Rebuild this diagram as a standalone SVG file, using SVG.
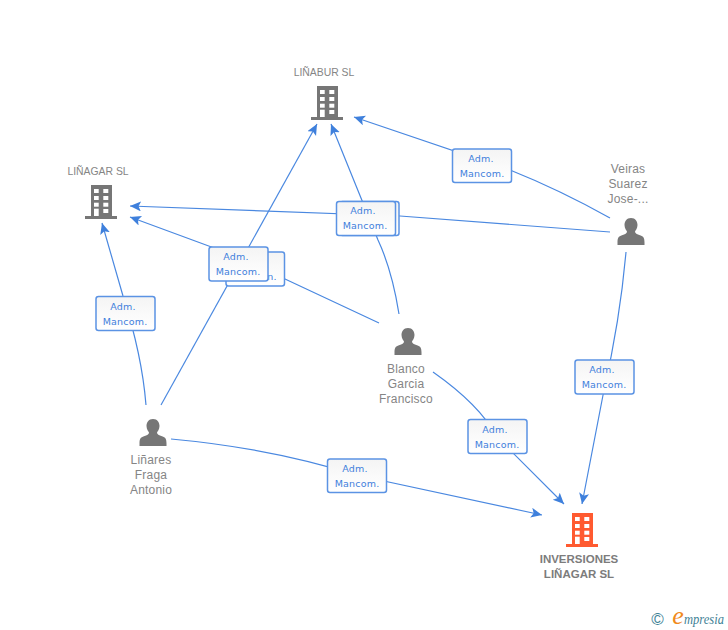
<svg xmlns="http://www.w3.org/2000/svg" width="728" height="630" viewBox="0 0 728 630">
<style>
.c{fill:none;stroke:#4a88e0;stroke-width:1.2;marker-end:url(#a)}
.t{font:12px "Liberation Sans",Arial,sans-serif;fill:#858585;text-anchor:middle;letter-spacing:.2px}
.n{font:10.4px "Liberation Sans",Arial,sans-serif;fill:#858585;text-anchor:middle}
.b{font:bold 11.5px "Liberation Sans",Arial,sans-serif;fill:#7c7c7c;text-anchor:middle}
.m{font:9.5px "DejaVu Sans",sans-serif;fill:#3f80dc;text-anchor:middle;letter-spacing:.2px}
.box{fill:url(#g);stroke:#5b93e4;stroke-width:1.5}
</style>
<defs>
<linearGradient id="g" x1="0" y1="0" x2="0" y2="1"><stop offset="0" stop-color="#f4f4f4"/><stop offset=".5" stop-color="#fafafa"/><stop offset="1" stop-color="#fff"/></linearGradient>
<marker id="a" markerUnits="userSpaceOnUse" markerWidth="14" markerHeight="12" refX="11" refY="5" orient="auto"><path d="M0 0L11 5L0 10L2.500 5Z" fill="#3f80dc"/></marker>
<g id="bld"><path d="M-10-18H11V13H16V16H-16V13H-10Z"/><g fill="#fff"><rect x="-7" y="-14" width="4.700" height="4"/><rect x="2.300" y="-14" width="5" height="4"/><rect x="-7" y="-7" width="4.700" height="4"/><rect x="2.300" y="-7" width="5" height="4"/><rect x="-7" y="-.3" width="4.700" height="4"/><rect x="2.300" y="-.3" width="5" height="4"/><rect x="-7" y="5.700" width="4.700" height="7.300"/><rect x="2.300" y="6" width="5" height="4"/></g></g>
<g id="per"><path d="M0-14C4.500-14 6.500-10.500 6.500-7C6.500-3.500 4.500-1.500 4-.5C4 1.500 6 2 9 3.300C12.500 4.500 13.500 6 13.500 10.500V13H-13.500V10.500C-13.500 6-12.500 4.500-9 3.300C-6 2-4 1.500-4-.5C-4.500-1.500-6.500-3.500-6.500-7C-6.500-10.500-4.500-14 0-14Z" fill="#767676"/></g>
</defs>
<rect width="728" height="630" fill="#fff"/>
<g id="connectors">
<path class="c" d="M161 405L317 124"/>
<path class="c" d="M146 405Q142 355 123 296L102 223"/>
<path class="c" d="M171 439Q270 448 356 475L542 515"/>
<path class="c" d="M399 314Q392 270 378 240L331 124"/>
<path class="c" d="M379 323L285 279L225 252L130 217"/>
<path class="c" d="M610 232L400 216L130 206"/>
<path class="c" d="M610 218Q560 190 510 170L354 117"/>
<path class="c" d="M626 252Q620 320 604 390L582 504"/>
<path class="c" d="M433 372Q480 405 497 437L564 504"/>
</g>
<g id="e1"><use href="#bld" x="327" y="104" fill="#767676"/><text class="n" x="324" y="76">LIÑABUR SL</text></g>
<g id="e2"><use href="#bld" x="101" y="203" fill="#767676"/><text class="n" x="98" y="175">LIÑAGAR SL</text></g>
<g id="e3"><use href="#bld" x="582" y="531" fill="#ff5a30"/><text class="b" x="579" y="563">INVERSIONES</text><text class="b" x="579" y="578">LIÑAGAR SL</text></g>
<g id="p1"><use href="#per" x="631" y="232"/><text class="t" x="628" y="173">Veiras</text><text class="t" x="628" y="188">Suarez</text><text class="t" x="628" y="203">Jose-...</text></g>
<g id="p2"><use href="#per" x="408" y="342"/><text class="t" x="406" y="373">Blanco</text><text class="t" x="406" y="388">Garcia</text><text class="t" x="406" y="403">Francisco</text></g>
<g id="p3"><use href="#per" x="153" y="433"/><text class="t" x="151" y="464">Liñares</text><text class="t" x="151" y="479">Fraga</text><text class="t" x="151" y="494">Antonio</text></g>
<g id="l1"><rect class="box" x="452.500" y="149" width="59" height="33.500" rx="2.500"/><text class="m" x="481" y="162">Adm.</text><text class="m" x="482" y="177">Mancom.</text></g>
<g id="l2"><rect class="box" x="340" y="201.500" width="59" height="34" rx="2.500"/><rect class="box" x="336.500" y="201.500" width="59" height="34" rx="2.500"/><text class="m" x="363" y="214">Adm.</text><text class="m" x="365" y="229">Mancom.</text></g>
<g id="l3"><rect class="box" x="226" y="252" width="58.500" height="34" rx="2.500"/><text class="m" x="272" y="280">n.</text><rect class="box" x="209" y="247" width="59" height="34" rx="2.500"/><text class="m" x="236" y="260">Adm.</text><text class="m" x="238" y="275">Mancom.</text></g>
<g id="l4"><rect class="box" x="96" y="296.500" width="59" height="34" rx="2.500"/><text class="m" x="123" y="310">Adm.</text><text class="m" x="125" y="325">Mancom.</text></g>
<g id="l5"><rect class="box" x="575" y="360" width="59" height="34" rx="2.500"/><text class="m" x="602" y="373">Adm.</text><text class="m" x="604" y="388">Mancom.</text></g>
<g id="l6"><rect class="box" x="468" y="419.500" width="59" height="34" rx="2.500"/><text class="m" x="495" y="433">Adm.</text><text class="m" x="497" y="448">Mancom.</text></g>
<g id="l7"><rect class="box" x="327.500" y="459" width="59" height="33.500" rx="2.500"/><text class="m" x="355" y="472">Adm.</text><text class="m" x="357" y="487">Mancom.</text></g>
<g id="logo"><text x="657.500" y="625" font-family="Liberation Sans,sans-serif" font-size="17" fill="#3f8296" text-anchor="middle">©</text><text x="678" y="624" font-family="Liberation Serif,serif" font-style="italic" font-size="26" fill="#f08a1c" text-anchor="middle">e</text><text x="684" y="624" font-family="Liberation Serif,serif" font-style="italic" font-size="14" fill="#3f8296" textLength="40" lengthAdjust="spacingAndGlyphs">mpresia</text></g>
</svg>
